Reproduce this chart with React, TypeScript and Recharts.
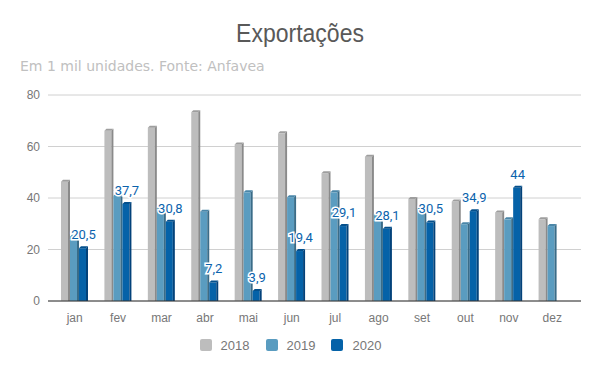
import { BarChart, Bar, XAxis, YAxis, CartesianGrid, Legend, LabelList } from 'recharts'

const months = ['jan', 'fev', 'mar', 'abr', 'mai', 'jun', 'jul', 'ago', 'set', 'out', 'nov', 'dez']
const y2018 = [46.3, 66.1, 67.3, 73.3, 60.8, 65.1, 49.6, 56, 39.6, 38.6, 34.4, 31.7]
const y2019 = [25, 40.8, 36, 34.7, 42.2, 40.3, 42.2, 33.4, 35.6, 29.8, 31.7, 29.1]
const y2020 = [20.5, 37.7, 30.8, 7.2, 3.9, 19.4, 29.1, 28.1, 30.5, 34.9, 44, null]
const yTicks = [0, 20, 40, 60, 80]

const data = months.map((m, i) => ({
  month: m,
  '2018': y2018[i],
  '2019': y2019[i],
  '2020': y2020[i],
}))

const colors: Record<string, { front: string; side: string; top: string }> = {
  '2018': { front: '#bdbdbd', side: '#8a8a8a', top: '#9e9e9e' },
  '2019': { front: '#5a9cc0', side: '#3a6c88', top: '#4a86a8' },
  '2020': { front: '#0562a8', side: '#03427a', top: '#04508c' },
}

const font = '"Liberation Sans", Arial, sans-serif'

function Bar3D(props: any) {
  const { x, y, width, height, dataKey } = props
  if (height == null || height <= 0) return null
  const c = colors[dataKey]
  const d = 2
  const fw = width - d
  return (
    <g>
      <rect x={x} y={y} width={fw} height={height} fill={c.front} />
      <polygon
        points={`${x + fw},${y} ${x + width},${y - d} ${x + width},${y + height} ${x + fw},${y + height}`}
        fill={c.side}
      />
      <polygon
        points={`${x},${y} ${x + d},${y - d} ${x + width},${y - d} ${x + fw},${y}`}
        fill={c.top}
      />
    </g>
  )
}

function LegendContent(props: any) {
  const { payload } = props
  return (
    <div
      style={{
        display: 'flex',
        justifyContent: 'center',
        gap: 16,
        paddingTop: 6,
        height: 16,
        fontFamily: font,
        fontSize: 13,
        color: '#777',
      }}
    >
      {payload.map((p: any) => (
        <div key={p.value} style={{ display: 'flex', alignItems: 'center' }}>
          <span
            style={{
              width: 12,
              height: 12,
              borderRadius: 2,
              background: colors[p.value].front,
              marginRight: 9,
              display: 'inline-block',
            }}
          />
          <span>{p.value}</span>
        </div>
      ))}
    </div>
  )
}

export default function App() {
  return (
    <div style={{ position: 'fixed', left: 0, top: 0, width: 600, height: 371, background: '#fff' }}>
      <div
        style={{
          position: 'absolute',
          top: 19,
          left: 0,
          width: 600,
          textAlign: 'center',
          fontFamily: font,
          fontSize: 25,
          color: '#595959',
          transform: 'scaleX(0.92)',
        }}
      >
        Exportações
      </div>
      <div
        style={{
          position: 'absolute',
          top: 58,
          left: 20,
          fontFamily: '"DejaVu Sans", sans-serif',
          fontSize: 14,
          color: '#c0c0c0',
        }}
      >
        Em 1 mil unidades. Fonte: Anfavea
      </div>
      <BarChart
        width={600}
        height={371}
        data={data}
        margin={{ top: 95, right: 19, left: 0, bottom: 18 }}
        barGap={0}
        barSize={9}
      >
        <CartesianGrid vertical={false} stroke="#d0d0d0" />
        <XAxis
          dataKey="month"
          axisLine={{ stroke: '#333' }}
          tickLine={false}
          tickMargin={6}
          padding={{ left: 5, right: 7 }}
          tick={{ fill: '#777', fontSize: 12, fontFamily: font }}
        />
        <YAxis
          width={48}
          domain={[0, 80]}
          ticks={yTicks}
          axisLine={false}
          tickLine={false}
          tick={{ fill: '#777', fontSize: 12, fontFamily: font }}
        />
        <Legend verticalAlign="bottom" content={<LegendContent />} />
        <Bar dataKey="2018" fill={colors['2018'].front} shape={<Bar3D />} isAnimationActive={false} />
        <Bar dataKey="2019" fill={colors['2019'].front} shape={<Bar3D />} isAnimationActive={false} />
        <Bar dataKey="2020" fill={colors['2020'].front} shape={<Bar3D />} isAnimationActive={false}>
          <LabelList
            dataKey="2020"
            position="top"
            offset={9}
            formatter={(v: any) => (v == null ? '' : String(v).replace('.', ','))}
            style={{
              fill: '#0b63ad',
              fontSize: 13,
              fontFamily: 'Roboto, sans-serif',
              stroke: '#fff',
              strokeWidth: 3,
              paintOrder: 'stroke',
            }}
          />
        </Bar>
      </BarChart>
    </div>
  )
}
